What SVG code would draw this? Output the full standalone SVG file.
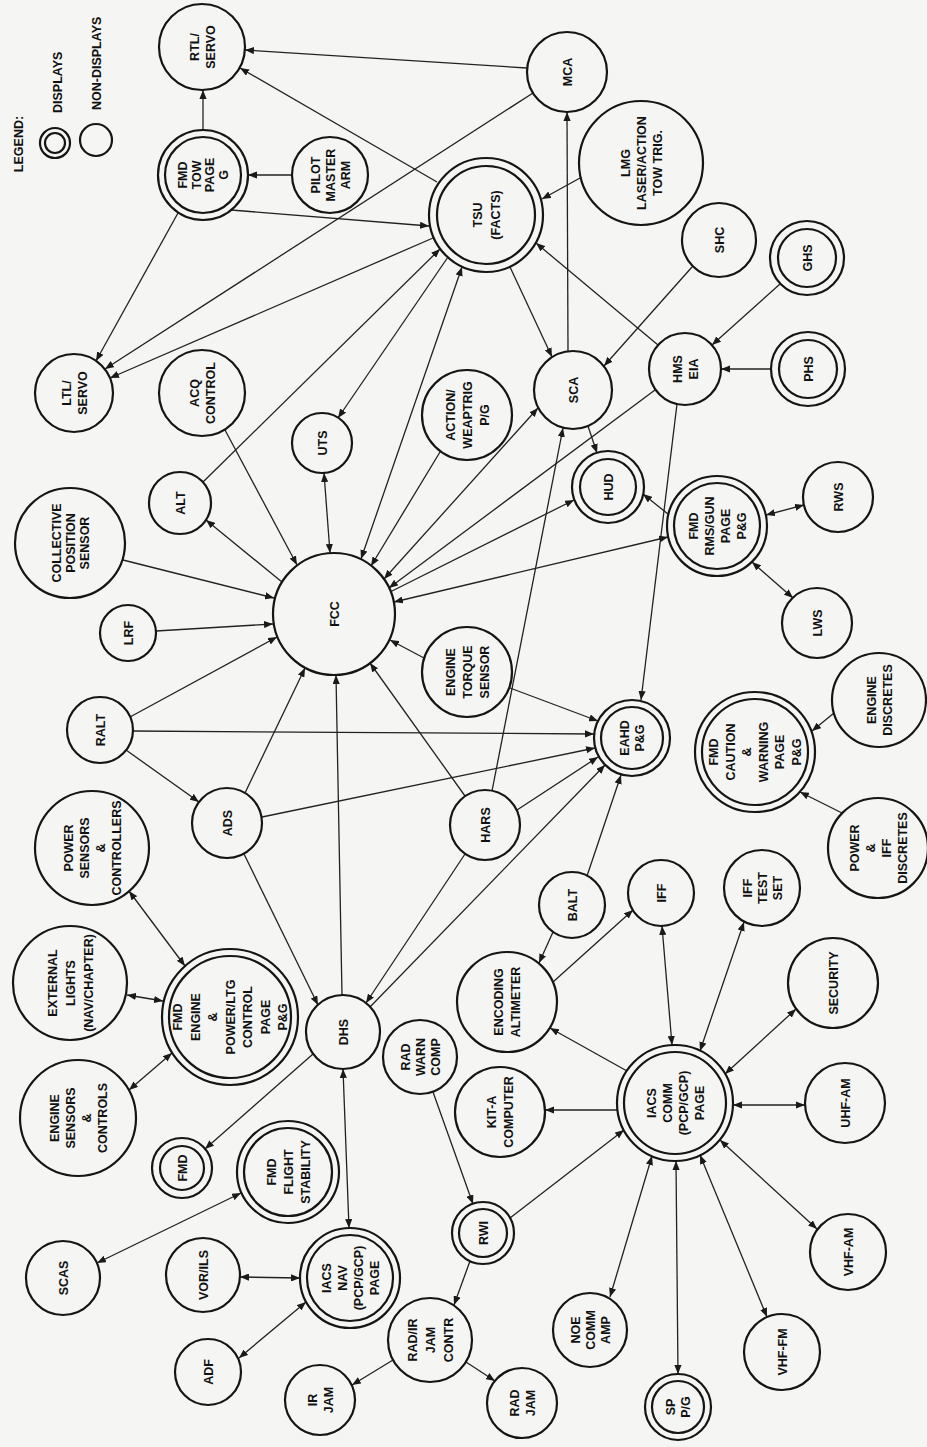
<svg xmlns="http://www.w3.org/2000/svg" width="927" height="1447" viewBox="0 0 927 1447">
<style>
.n circle{fill:#f5f5f3;stroke:#151515;stroke-width:2.2}
.lg circle{fill:none;stroke:#151515;stroke-width:2.2}
text{font-family:"Liberation Sans",Arial,sans-serif;font-weight:bold;font-size:12.5px;fill:#111;text-anchor:middle}
.st{text-anchor:start}
#connectors line{stroke:#222;stroke-width:1.3;fill:none}
#connectors .a{marker-end:url(#ah)}
#connectors .b{marker-start:url(#ah);marker-end:url(#ah)}
</style>
<defs>
<marker id="ah" viewBox="0 0 10 8" refX="10" refY="4" markerWidth="9" markerHeight="7.2" markerUnits="userSpaceOnUse" orient="auto-start-reverse"><path d="M0,0 L10,4 L0,8 z" fill="#1a1a1a"/></marker>
</defs>
<rect width="927" height="1447" fill="#f5f5f3"/>
<g id="legend" class="lg">
<text transform="translate(18,144) rotate(-90)" y="4.5">LEGEND:</text>
<circle cx="55" cy="143" r="15"/><circle cx="55" cy="143" r="10"/>
<text class="st" transform="translate(57,113) rotate(-90)" y="4.5">DISPLAYS</text>
<circle cx="96" cy="140" r="16"/>
<text class="st" transform="translate(96,110) rotate(-90)" y="4.5">NON-DISPLAYS</text>
</g>
<g id="connectors">
<line class="a" x1="527" y1="68" x2="245" y2="50"/>
<line class="a" x1="437" y1="182" x2="240" y2="68"/>
<line class="a" x1="203" y1="130" x2="203" y2="90"/>
<line class="a" x1="292" y1="175" x2="248" y2="175"/>
<line class="a" x1="231" y1="210" x2="429" y2="226"/>
<line class="a" x1="178" y1="213" x2="96" y2="361"/>
<line class="a" x1="533" y1="93" x2="105" y2="369"/>
<line class="a" x1="433" y1="238" x2="110" y2="378"/>
<line class="a" x1="580" y1="178" x2="542" y2="199"/>
<line class="a" x1="568" y1="351" x2="567" y2="112"/>
<line class="a" x1="510" y1="267" x2="552" y2="357"/>
<line class="a" x1="658" y1="345" x2="536" y2="243"/>
<line class="a" x1="692" y1="267" x2="604" y2="366"/>
<line class="a" x1="780" y1="284" x2="712" y2="345"/>
<line class="a" x1="771" y1="369" x2="721" y2="369"/>
<line class="a" x1="588" y1="426" x2="597" y2="453"/>
<line class="a" x1="677" y1="404" x2="641" y2="700"/>
<line class="a" x1="668" y1="514" x2="643" y2="494"/>
<line class="b" x1="766" y1="515" x2="804" y2="505"/>
<line class="b" x1="752" y1="562" x2="793" y2="598"/>
<line class="a" x1="492" y1="791" x2="563" y2="428"/>
<line class="a" x1="225" y1="430" x2="297" y2="565"/>
<line class="a" x1="282" y1="582" x2="206" y2="520"/>
<line class="b" x1="324" y1="473" x2="330" y2="553"/>
<line class="a" x1="123" y1="560" x2="274" y2="598"/>
<line class="a" x1="156" y1="631" x2="273" y2="624"/>
<line class="a" x1="130" y1="717" x2="277" y2="637"/>
<line class="a" x1="133" y1="731" x2="594" y2="734"/>
<line class="a" x1="126" y1="750" x2="199" y2="802"/>
<line class="a" x1="245" y1="793" x2="305" y2="668"/>
<line class="a" x1="262" y1="817" x2="595" y2="748"/>
<line class="a" x1="244" y1="854" x2="318" y2="1005"/>
<line class="a" x1="342" y1="995" x2="336" y2="675"/>
<line class="a" x1="424" y1="658" x2="390" y2="640"/>
<line class="a" x1="510" y1="688" x2="598" y2="721"/>
<line class="a" x1="465" y1="796" x2="370" y2="663"/>
<line class="a" x1="517" y1="810" x2="598" y2="757"/>
<line class="a" x1="465" y1="854" x2="366" y2="1003"/>
<line class="a" x1="370" y1="1007" x2="605" y2="765"/>
<line class="a" x1="587" y1="876" x2="621" y2="775"/>
<line class="a" x1="553" y1="932" x2="539" y2="963"/>
<line class="a" x1="553" y1="982" x2="633" y2="910"/>
<line class="a" x1="627" y1="1071" x2="550" y2="1028"/>
<line class="a" x1="617" y1="1110" x2="545" y2="1110"/>
<line class="b" x1="672" y1="1045" x2="662" y2="926"/>
<line class="b" x1="700" y1="1051" x2="744" y2="922"/>
<line class="b" x1="725" y1="1074" x2="796" y2="1009"/>
<line class="b" x1="733" y1="1105" x2="805" y2="1105"/>
<line class="b" x1="720" y1="1140" x2="817" y2="1229"/>
<line class="b" x1="700" y1="1155" x2="767" y2="1317"/>
<line class="b" x1="676" y1="1161" x2="678" y2="1374"/>
<line class="b" x1="652" y1="1156" x2="610" y2="1297"/>
<line class="a" x1="510" y1="1218" x2="624" y2="1130"/>
<line class="a" x1="433" y1="1092" x2="473" y2="1204"/>
<line class="a" x1="470" y1="1261" x2="454" y2="1305"/>
<line class="a" x1="393" y1="1360" x2="352" y2="1385"/>
<line class="a" x1="466" y1="1362" x2="495" y2="1381"/>
<line class="b" x1="343" y1="1069" x2="349" y2="1228"/>
<line class="a" x1="313" y1="1054" x2="205" y2="1149"/>
<line class="b" x1="241" y1="1193" x2="97" y2="1263"/>
<line class="b" x1="240" y1="1277" x2="300" y2="1278"/>
<line class="b" x1="239" y1="1358" x2="306" y2="1302"/>
<line class="b" x1="129" y1="891" x2="185" y2="966"/>
<line class="b" x1="127" y1="995" x2="163" y2="1001"/>
<line class="b" x1="129" y1="1090" x2="172" y2="1053"/>
<line class="a" x1="834" y1="713" x2="812" y2="731"/>
<line class="a" x1="842" y1="813" x2="800" y2="792"/>
<line class="a" x1="203" y1="482" x2="440" y2="249"/>
<line class="a" x1="448" y1="257" x2="338" y2="418"/>
<line class="b" x1="462" y1="267" x2="361" y2="559"/>
<line class="a" x1="440" y1="452" x2="371" y2="566"/>
<line class="b" x1="538" y1="408" x2="384" y2="579"/>
<line class="a" x1="655" y1="390" x2="389" y2="588"/>
<line class="b" x1="668" y1="537" x2="394" y2="602"/>
<line class="a" x1="390" y1="592" x2="574" y2="500"/>
</g>
<g id="rtl-servo" class="n"><circle cx="202" cy="47" r="43"/><text transform="translate(202,47) rotate(-90)"><tspan x="0" y="-3.5">RTL/</tspan><tspan x="0" y="12.5">SERVO</tspan></text></g>
<g id="fmd-tow-page" class="n"><circle cx="203" cy="175" r="45"/><circle cx="203" cy="175" r="38"/><text transform="translate(203,175) rotate(-90)"><tspan x="0" y="-15.75">FMD</tspan><tspan x="0" y="-2.25">TOW</tspan><tspan x="0" y="11.25">PAGE</tspan><tspan x="0" y="24.75">G</tspan></text></g>
<g id="pilot-master-arm" class="n"><circle cx="330" cy="175" r="38"/><text transform="translate(330,175) rotate(-90)"><tspan x="0" y="-10.5">PILOT</tspan><tspan x="0" y="4.5">MASTER</tspan><tspan x="0" y="19.5">ARM</tspan></text></g>
<g id="mca" class="n"><circle cx="567" cy="72" r="40"/><text transform="translate(567,72) rotate(-90)" y="4.5">MCA</text></g>
<g id="tsu" class="n"><circle cx="486" cy="215" r="57"/><circle cx="486" cy="215" r="49"/><text transform="translate(486,215) rotate(-90)"><tspan x="0" y="-4.5">TSU</tspan><tspan x="0" y="13.5">(FACTS)</tspan></text></g>
<g id="lmg" class="n"><circle cx="641" cy="163" r="62"/><text transform="translate(641,163) rotate(-90)"><tspan x="0" y="-11.5">LMG</tspan><tspan x="0" y="4.5">LASER/ACTION</tspan><tspan x="0" y="20.5">TOW TRIG.</tspan></text></g>
<g id="shc" class="n"><circle cx="719" cy="240" r="37"/><text transform="translate(719,240) rotate(-90)" y="4.5">SHC</text></g>
<g id="ghs" class="n"><circle cx="807" cy="258" r="37"/><circle cx="807" cy="258" r="29"/><text transform="translate(807,258) rotate(-90)" y="4.5">GHS</text></g>
<g id="phs" class="n"><circle cx="808" cy="369" r="37"/><circle cx="808" cy="369" r="29"/><text transform="translate(808,369) rotate(-90)" y="4.5">PHS</text></g>
<g id="hms-eia" class="n"><circle cx="685" cy="369" r="36"/><text transform="translate(685,369) rotate(-90)"><tspan x="0" y="-3.5">HMS</tspan><tspan x="0" y="12.5">EIA</tspan></text></g>
<g id="sca" class="n"><circle cx="573" cy="390" r="39"/><text transform="translate(573,390) rotate(-90)" y="4.5">SCA</text></g>
<g id="hud" class="n"><circle cx="608" cy="487" r="36"/><circle cx="608" cy="487" r="28"/><text transform="translate(608,487) rotate(-90)" y="4.5">HUD</text></g>
<g id="fmd-rms-gun" class="n"><circle cx="717" cy="526" r="50"/><circle cx="717" cy="526" r="43"/><text transform="translate(717,526) rotate(-90)"><tspan x="0" y="-19.5">FMD</tspan><tspan x="0" y="-3.5">RMS/GUN</tspan><tspan x="0" y="12.5">PAGE</tspan><tspan x="0" y="28.5">P&amp;G</tspan></text></g>
<g id="rws" class="n"><circle cx="838" cy="497" r="35"/><text transform="translate(838,497) rotate(-90)" y="4.5">RWS</text></g>
<g id="lws" class="n"><circle cx="817" cy="623" r="35"/><text transform="translate(817,623) rotate(-90)" y="4.5">LWS</text></g>
<g id="engine-discretes" class="n"><circle cx="879" cy="700" r="47"/><text transform="translate(879,700) rotate(-90)"><tspan x="0" y="-3.5">ENGINE</tspan><tspan x="0" y="12.5">DISCRETES</tspan></text></g>
<g id="fmd-caution" class="n"><circle cx="755" cy="752" r="60"/><circle cx="755" cy="752" r="53"/><text transform="translate(755,752) rotate(-90)"><tspan x="0" y="-36.75">FMD</tspan><tspan x="0" y="-20.25">CAUTION</tspan><tspan x="0" y="-3.75">&amp;</tspan><tspan x="0" y="12.75">WARNING</tspan><tspan x="0" y="29.25">PAGE</tspan><tspan x="0" y="45.75">P&amp;G</tspan></text></g>
<g id="power-iff-discretes" class="n"><circle cx="878" cy="848" r="50"/><text transform="translate(878,848) rotate(-90)"><tspan x="0" y="-19.5">POWER</tspan><tspan x="0" y="-3.5">&amp;</tspan><tspan x="0" y="12.5">IFF</tspan><tspan x="0" y="28.5">DISCRETES</tspan></text></g>
<g id="eahd" class="n"><circle cx="632" cy="738" r="38"/><circle cx="632" cy="738" r="31"/><text transform="translate(632,738) rotate(-90)"><tspan x="0" y="-3">EAHD</tspan><tspan x="0" y="12">P&amp;G</tspan></text></g>
<g id="iff-test-set" class="n"><circle cx="762" cy="888" r="38"/><text transform="translate(762,888) rotate(-90)"><tspan x="0" y="-10.5">IFF</tspan><tspan x="0" y="4.5">TEST</tspan><tspan x="0" y="19.5">SET</tspan></text></g>
<g id="iff" class="n"><circle cx="661" cy="893" r="33"/><text transform="translate(661,893) rotate(-90)" y="4.5">IFF</text></g>
<g id="security" class="n"><circle cx="833" cy="983" r="45"/><text transform="translate(833,983) rotate(-90)" y="4.5">SECURITY</text></g>
<g id="uhf-am" class="n"><circle cx="845" cy="1103" r="40"/><text transform="translate(845,1103) rotate(-90)" y="4.5">UHF-AM</text></g>
<g id="vhf-am" class="n"><circle cx="848" cy="1252" r="38"/><text transform="translate(848,1252) rotate(-90)" y="4.5">VHF-AM</text></g>
<g id="vhf-fm" class="n"><circle cx="782" cy="1352" r="38"/><text transform="translate(782,1352) rotate(-90)" y="4.5">VHF-FM</text></g>
<g id="sp-pg" class="n"><circle cx="678" cy="1407" r="33"/><circle cx="678" cy="1407" r="26"/><text transform="translate(678,1407) rotate(-90)"><tspan x="0" y="-3">SP</tspan><tspan x="0" y="12">P/G</tspan></text></g>
<g id="iacs-comm" class="n"><circle cx="675" cy="1103" r="58"/><circle cx="675" cy="1103" r="51"/><text transform="translate(675,1103) rotate(-90)"><tspan x="0" y="-19.5">IACS</tspan><tspan x="0" y="-3.5">COMM</tspan><tspan x="0" y="12.5">(PCP/GCP)</tspan><tspan x="0" y="28.5">PAGE</tspan></text></g>
<g id="noe-comm-amp" class="n"><circle cx="590" cy="1330" r="37"/><text transform="translate(590,1330) rotate(-90)"><tspan x="0" y="-10.5">NOE</tspan><tspan x="0" y="4.5">COMM</tspan><tspan x="0" y="19.5">AMP</tspan></text></g>
<g id="kit-a-computer" class="n"><circle cx="500" cy="1112" r="45"/><text transform="translate(500,1112) rotate(-90)"><tspan x="0" y="-4">KIT-A</tspan><tspan x="0" y="13">COMPUTER</tspan></text></g>
<g id="encoding-altimeter" class="n"><circle cx="507" cy="1002" r="50"/><text transform="translate(507,1002) rotate(-90)"><tspan x="0" y="-4">ENCODING</tspan><tspan x="0" y="13">ALTIMETER</tspan></text></g>
<g id="balt" class="n"><circle cx="572" cy="905" r="33"/><text transform="translate(572,905) rotate(-90)" y="4.5">BALT</text></g>
<g id="hars" class="n"><circle cx="485" cy="825" r="35"/><text transform="translate(485,825) rotate(-90)" y="4.5">HARS</text></g>
<g id="dhs" class="n"><circle cx="343" cy="1032" r="37"/><text transform="translate(343,1032) rotate(-90)" y="4.5">DHS</text></g>
<g id="rad-warn-comp" class="n"><circle cx="420" cy="1057" r="37"/><text transform="translate(420,1057) rotate(-90)"><tspan x="0" y="-10.5">RAD</tspan><tspan x="0" y="4.5">WARN</tspan><tspan x="0" y="19.5">COMP</tspan></text></g>
<g id="rwi" class="n"><circle cx="483" cy="1233" r="31"/><circle cx="483" cy="1233" r="24"/><text transform="translate(483,1233) rotate(-90)" y="4.5">RWI</text></g>
<g id="rad-ir-jam-contr" class="n"><circle cx="430" cy="1340" r="42"/><text transform="translate(430,1340) rotate(-90)"><tspan x="0" y="-13.5">RAD/IR</tspan><tspan x="0" y="4.5">JAM</tspan><tspan x="0" y="22.5">CONTR</tspan></text></g>
<g id="rad-jam" class="n"><circle cx="522" cy="1403" r="35"/><text transform="translate(522,1403) rotate(-90)"><tspan x="0" y="-3.5">RAD</tspan><tspan x="0" y="12.5">JAM</tspan></text></g>
<g id="ir-jam" class="n"><circle cx="320" cy="1400" r="35"/><text transform="translate(320,1400) rotate(-90)"><tspan x="0" y="-3.5">IR</tspan><tspan x="0" y="12.5">JAM</tspan></text></g>
<g id="iacs-nav" class="n"><circle cx="350" cy="1278" r="50"/><circle cx="350" cy="1278" r="43"/><text transform="translate(350,1278) rotate(-90)"><tspan x="0" y="-19.5">IACS</tspan><tspan x="0" y="-3.5">NAV</tspan><tspan x="0" y="12.5">(PCP/GCP)</tspan><tspan x="0" y="28.5">PAGE</tspan></text></g>
<g id="adf" class="n"><circle cx="208" cy="1372" r="33"/><text transform="translate(208,1372) rotate(-90)" y="4.5">ADF</text></g>
<g id="vor-ils" class="n"><circle cx="203" cy="1275" r="37"/><text transform="translate(203,1275) rotate(-90)" y="4.5">VOR/ILS</text></g>
<g id="scas" class="n"><circle cx="63" cy="1278" r="37"/><text transform="translate(63,1278) rotate(-90)" y="4.5">SCAS</text></g>
<g id="fmd-flight-stability" class="n"><circle cx="288" cy="1172" r="51"/><circle cx="288" cy="1172" r="44"/><text transform="translate(288,1172) rotate(-90)"><tspan x="0" y="-12.5">FMD</tspan><tspan x="0" y="4.5">FLIGHT</tspan><tspan x="0" y="21.5">STABILITY</tspan></text></g>
<g id="fmd" class="n"><circle cx="182" cy="1168" r="30"/><circle cx="182" cy="1168" r="22"/><text transform="translate(182,1168) rotate(-90)" y="4.5">FMD</text></g>
<g id="engine-sensors" class="n"><circle cx="78" cy="1118" r="58"/><text transform="translate(78,1118) rotate(-90)"><tspan x="0" y="-19.5">ENGINE</tspan><tspan x="0" y="-3.5">SENSORS</tspan><tspan x="0" y="12.5">&amp;</tspan><tspan x="0" y="28.5">CONTROLS</tspan></text></g>
<g id="fmd-engine-page" class="n"><circle cx="230" cy="1017" r="68"/><circle cx="230" cy="1017" r="61"/><text transform="translate(230,1017) rotate(-90)"><tspan x="0" y="-48">FMD</tspan><tspan x="0" y="-30.5">ENGINE</tspan><tspan x="0" y="-13">&amp;</tspan><tspan x="0" y="4.5">POWER/LTG</tspan><tspan x="0" y="22">CONTROL</tspan><tspan x="0" y="39.5">PAGE</tspan><tspan x="0" y="57">P&amp;G</tspan></text></g>
<g id="external-lights" class="n"><circle cx="70" cy="983" r="57"/><text transform="translate(70,983) rotate(-90)"><tspan x="0" y="-13.5">EXTERNAL</tspan><tspan x="0" y="4.5">LIGHTS</tspan><tspan x="0" y="22.5">(NAV/CHAPTER)</tspan></text></g>
<g id="power-sensors" class="n"><circle cx="92" cy="848" r="57"/><text transform="translate(92,848) rotate(-90)"><tspan x="0" y="-19.5">POWER</tspan><tspan x="0" y="-3.5">SENSORS</tspan><tspan x="0" y="12.5">&amp;</tspan><tspan x="0" y="28.5">CONTROLLERS</tspan></text></g>
<g id="ads" class="n"><circle cx="227" cy="823" r="35"/><text transform="translate(227,823) rotate(-90)" y="4.5">ADS</text></g>
<g id="ralt" class="n"><circle cx="100" cy="730" r="33"/><text transform="translate(100,730) rotate(-90)" y="4.5">RALT</text></g>
<g id="lrf" class="n"><circle cx="128" cy="633" r="28"/><text transform="translate(128,633) rotate(-90)" y="4.5">LRF</text></g>
<g id="collective" class="n"><circle cx="70" cy="543" r="55"/><text transform="translate(70,543) rotate(-90)"><tspan x="0" y="-9.5">COLLECTIVE</tspan><tspan x="0" y="4.5">POSITION</tspan><tspan x="0" y="18.5">SENSOR</tspan></text></g>
<g id="alt" class="n"><circle cx="180" cy="503" r="31"/><text transform="translate(180,503) rotate(-90)" y="4.5">ALT</text></g>
<g id="acq-control" class="n"><circle cx="202" cy="393" r="43"/><text transform="translate(202,393) rotate(-90)"><tspan x="0" y="-3.5">ACQ</tspan><tspan x="0" y="12.5">CONTROL</tspan></text></g>
<g id="ltl-servo" class="n"><circle cx="74" cy="393" r="39"/><text transform="translate(74,393) rotate(-90)"><tspan x="0" y="-3.5">LTL/</tspan><tspan x="0" y="12.5">SERVO</tspan></text></g>
<g id="uts" class="n"><circle cx="322" cy="443" r="30"/><text transform="translate(322,443) rotate(-90)" y="4.5">UTS</text></g>
<g id="action-weaptrig" class="n"><circle cx="467" cy="415" r="45"/><text transform="translate(467,415) rotate(-90)"><tspan x="0" y="-12.5">ACTION/</tspan><tspan x="0" y="4.5">WEAPTRIG</tspan><tspan x="0" y="21.5">P/G</tspan></text></g>
<g id="fcc" class="n"><circle cx="334" cy="614" r="61"/><text transform="translate(334,614) rotate(-90)" y="4.5">FCC</text></g>
<g id="engine-torque-sensor" class="n"><circle cx="467" cy="672" r="45"/><text transform="translate(467,672) rotate(-90)"><tspan x="0" y="-12.5">ENGINE</tspan><tspan x="0" y="4.5">TORQUE</tspan><tspan x="0" y="21.5">SENSOR</tspan></text></g>
</svg>
